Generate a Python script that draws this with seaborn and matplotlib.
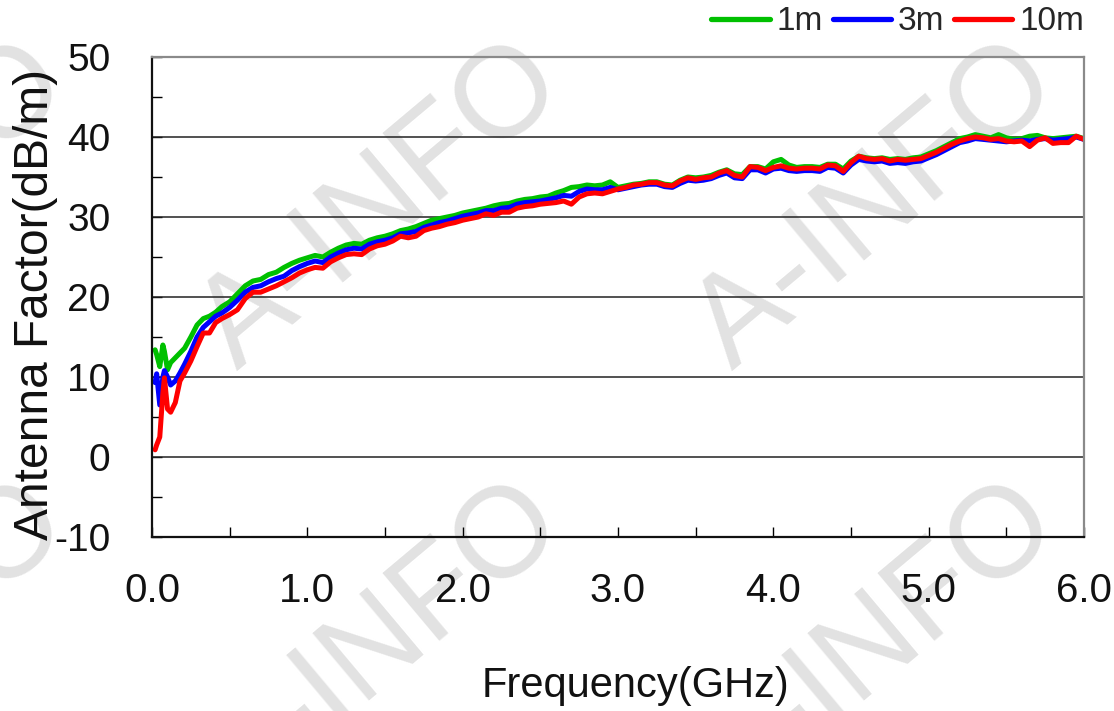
import numpy as np
import pandas as pd
import matplotlib
matplotlib.use("Agg")
import matplotlib.pyplot as plt
from matplotlib.ticker import MultipleLocator, FormatStrFormatter
from matplotlib.lines import Line2D
import seaborn as sns

# frequency points (GHz)
freq_ghz = [
    0.02, 0.03, 0.05, 0.07, 0.08, 0.10, 0.12, 0.15, 0.18, 0.21, 0.25, 0.29, 0.33, 0.37, 0.41, 0.45, 0.50,
    0.55, 0.60, 0.65, 0.70, 0.75, 0.80, 0.85, 0.90, 0.95, 1.00,
    1.05, 1.10, 1.15, 1.20, 1.25, 1.30, 1.35, 1.40, 1.45, 1.50,
    1.55, 1.60, 1.65, 1.70, 1.75, 1.80, 1.85, 1.90, 1.95, 2.00,
    2.05, 2.10, 2.15, 2.20, 2.25, 2.30, 2.35, 2.40, 2.45, 2.50,
    2.55, 2.60, 2.65, 2.70, 2.75, 2.80, 2.85, 2.90, 2.95, 3.00,
    3.05, 3.10, 3.15, 3.20, 3.25, 3.30, 3.35, 3.40, 3.45, 3.50,
    3.55, 3.60, 3.65, 3.70, 3.75, 3.80, 3.85, 3.90, 3.95, 4.00,
    4.05, 4.10, 4.15, 4.20, 4.25, 4.30, 4.35, 4.40, 4.45, 4.50,
    4.55, 4.60, 4.65, 4.70, 4.75, 4.80, 4.85, 4.90, 4.95, 5.00,
    5.05, 5.10, 5.15, 5.20, 5.25, 5.30, 5.35, 5.40, 5.45, 5.50,
    5.55, 5.60, 5.65, 5.70, 5.75, 5.80, 5.85, 5.90, 5.95, 6.00,
]

# antenna factor (dB/m) at 1 m
af_1m = [
    13.4, 12.8, 11.3, 14.0, 13.2, 10.9, 11.8, 12.4, 13.0, 13.6, 15.0, 16.5, 17.3, 17.6, 18.1, 18.8, 19.4,
    20.4, 21.4, 22.0, 22.2, 22.8, 23.1, 23.7, 24.2, 24.6, 24.9,
    25.2, 25.0, 25.6, 26.1, 26.5, 26.7, 26.6, 27.1, 27.4, 27.6,
    27.9, 28.3, 28.5, 28.8, 29.2, 29.6, 29.8, 30.0, 30.2, 30.5,
    30.7, 30.9, 31.1, 31.4, 31.6, 31.7, 32.0, 32.2, 32.3, 32.5,
    32.6, 33.0, 33.3, 33.7, 33.8, 34.0, 33.9, 34.0, 34.4, 33.7,
    33.9, 34.1, 34.2, 34.4, 34.4, 34.1, 34.0, 34.6, 35.0, 34.9,
    35.0, 35.2, 35.6, 35.9, 35.4, 35.3, 36.3, 36.3, 36.0, 36.9,
    37.2, 36.5, 36.2, 36.3, 36.3, 36.2, 36.6, 36.6, 36.0, 37.0,
    37.6, 37.4, 37.3, 37.4, 37.2, 37.3, 37.2, 37.4, 37.5, 37.9,
    38.3, 38.8, 39.3, 39.8, 40.0, 40.3, 40.1, 39.9, 40.3, 39.9,
    39.7, 39.8, 40.1, 40.2, 39.9, 39.8, 39.9, 40.0, 40.1, 39.8,
]

# 3 m
af_3m = [
    9.3, 10.4, 6.5, 10.0, 10.8, 10.0, 9.0, 9.5, 10.5, 11.6, 13.2, 15.0, 16.2, 16.9, 17.6, 18.0, 18.7,
    19.6, 20.6, 21.2, 21.4, 21.9, 22.3, 22.6, 23.3, 23.8, 24.2,
    24.5, 24.3, 25.0, 25.5, 25.9, 26.1, 26.0, 26.6, 26.9, 27.1,
    27.4, 27.9, 28.0, 28.2, 28.7, 29.0, 29.3, 29.5, 29.8, 30.1,
    30.3, 30.5, 30.8, 30.8, 31.1, 31.2, 31.6, 31.8, 31.9, 32.0,
    32.2, 32.4, 32.7, 32.6, 33.2, 33.5, 33.4, 33.4, 33.7, 33.4,
    33.6, 33.8, 34.0, 34.1, 34.1, 33.8, 33.7, 34.2, 34.6, 34.5,
    34.6, 34.8, 35.2, 35.5, 34.9, 34.8, 35.9, 35.9, 35.5, 36.0,
    36.1, 35.8, 35.7, 35.8, 35.8, 35.7, 36.2, 36.1, 35.5, 36.5,
    37.2, 37.0, 36.9, 37.0, 36.7, 36.8, 36.7, 36.9, 37.0, 37.4,
    37.8, 38.3, 38.8, 39.3, 39.5, 39.8, 39.7, 39.6, 39.5, 39.4,
    39.5, 39.6, 39.5, 39.7, 39.8, 39.6, 39.7, 39.8, 40.0, 39.7,
]

# 10 m
af_10m = [
    0.9, 1.5, 2.5, 8.0, 9.9, 6.0, 5.6, 6.8, 9.5, 10.5, 12.0, 13.8, 15.5, 15.5, 16.8, 17.3, 17.8,
    18.4, 19.8, 20.6, 20.6, 21.0, 21.4, 21.9, 22.4, 23.0, 23.4,
    23.7, 23.6, 24.4, 24.9, 25.3, 25.4, 25.3, 26.0, 26.4, 26.6,
    27.0, 27.6, 27.4, 27.6, 28.3, 28.6, 28.8, 29.1, 29.3, 29.6,
    29.8, 30.0, 30.4, 30.2, 30.6, 30.6, 31.1, 31.3, 31.4, 31.6,
    31.7, 31.8, 32.0, 31.6, 32.5, 32.9, 33.0, 32.9, 33.2, 33.5,
    33.7, 34.0, 34.1, 34.3, 34.3, 34.0, 33.9, 34.5, 34.9, 34.7,
    34.9, 35.0, 35.5, 35.8, 35.2, 35.0, 36.3, 36.2, 35.8, 36.2,
    36.4, 36.1, 36.0, 36.1, 36.1, 36.0, 36.5, 36.4, 35.7, 36.8,
    37.6, 37.3, 37.2, 37.3, 37.0, 37.2, 37.1, 37.2, 37.3, 37.7,
    38.1, 38.6, 39.1, 39.5, 39.8, 40.0, 39.9, 39.7, 39.8, 39.5,
    39.4, 39.5, 38.8, 39.6, 39.9, 39.2, 39.3, 39.3, 40.1, 39.7,
]

series_names = ["1m", "3m", "10m"]
series_colors = {"1m": "#00c000", "3m": "#0000ff", "10m": "#ff0000"}

df = pd.concat([
    pd.DataFrame({"freq": freq_ghz, "af": af_1m, "dist": "1m"}),
    pd.DataFrame({"freq": freq_ghz, "af": af_3m, "dist": "3m"}),
    pd.DataFrame({"freq": freq_ghz, "af": af_10m, "dist": "10m"}),
], ignore_index=True)

sns.set_theme(style="white")
plt.rcParams["font.family"] = ["Liberation Sans", "DejaVu Sans"]
plt.rcParams["axes.unicode_minus"] = False

fig = plt.figure(figsize=(11.14, 7.11), dpi=100)
ax = fig.add_axes([152 / 1114, 1 - 537 / 711, 932 / 1114, 480 / 711])
ax.patch.set_alpha(0)

# watermark behind the axes
wm_x = [-113, 382, 877]
wm_y = [207, 647]
for yy in wm_y:
    for xx in wm_x:
        fig.text(xx / 1114, 1 - yy / 711, "A-INFO", fontsize=92, color="#e2e2e2",
                 rotation=40, ha="center", va="center", zorder=-5,
                 rotation_mode="anchor")

sns.lineplot(data=df, x="freq", y="af", hue="dist", hue_order=series_names,
             palette=series_colors, estimator=None, sort=False, linewidth=3.6,
             ax=ax, legend=False)

ax.set_xlim(0, 6)
ax.set_ylim(-10, 50)
ax.xaxis.set_major_locator(MultipleLocator(1.0))
ax.xaxis.set_minor_locator(MultipleLocator(0.5))
ax.xaxis.set_major_formatter(FormatStrFormatter("%.1f"))
ax.yaxis.set_major_locator(MultipleLocator(10))
ax.yaxis.set_minor_locator(MultipleLocator(5))
ax.tick_params(axis="both", which="both", direction="in", length=7, width=1.0,
               color="black", labelcolor="#111111")
ax.tick_params(axis="x", which="both", bottom=True, pad=25, labelsize=29)
ax.tick_params(axis="y", which="both", left=True, pad=30, labelsize=28)

for yv in [0, 10, 20, 30, 40]:
    ax.axhline(yv, color="#222222", linewidth=1.1, zorder=1)

for side in ["left", "bottom"]:
    ax.spines[side].set_color("#111111")
    ax.spines[side].set_linewidth(1.6)
for side in ["top", "right"]:
    ax.spines[side].set_color("#8a8a8a")
    ax.spines[side].set_linewidth(1.6)

ax.set_xlabel("Frequency(GHz)", fontsize=30, color="#111111")
ax.set_ylabel("Antenna Factor(dB/m)", fontsize=34.5, color="#111111")
ax.xaxis.set_label_coords(0.519, -0.31)
ax.xaxis.label.set_verticalalignment("center")
ax.yaxis.set_label_coords(-0.125, 0.485)
ax.yaxis.label.set_verticalalignment("center")

handles = [Line2D([0], [0], color=series_colors[n], linewidth=3.8) for n in series_names]
ax.legend(handles, series_names, loc="center right", bbox_to_anchor=(1.0, (537 - 22) / 480),
          ncol=3, frameon=False, fontsize=24, handlelength=1.75, handletextpad=0.2,
          columnspacing=0.3, borderpad=0, borderaxespad=0)

fig.savefig("out.png", dpi=100)
